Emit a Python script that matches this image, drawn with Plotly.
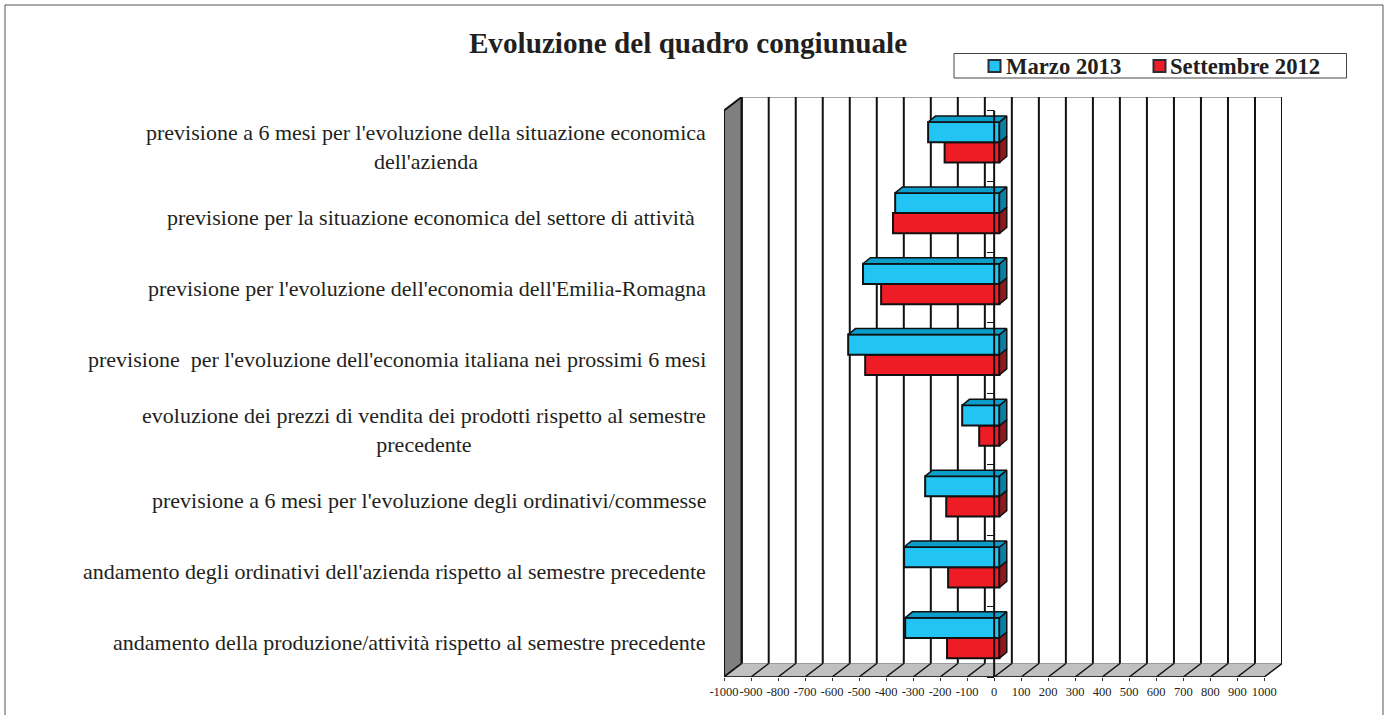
import plotly.graph_objects as go

# Chart values, top category first
categories = [
    "previsione a 6 mesi per l'evoluzione della situazione economica<br>dell'azienda",
    "previsione per la situazione economica del settore di attività\u00a0\u00a0",
    "previsione per l'evoluzione dell'economia dell'Emilia-Romagna",
    "previsione  per l'evoluzione dell'economia italiana nei prossimi 6 mesi",
    "evoluzione dei prezzi di vendita dei prodotti rispetto al semestre<br>precedente",
    "previsione a 6 mesi per l'evoluzione degli ordinativi/commesse",
    "andamento degli ordinativi dell'azienda rispetto al semestre precedente",
    "andamento della produzione/attività rispetto al semestre precedente",
]
marzo_2013 = [-264, -386, -505, -560, -138, -275, -353, -349]
settembre_2012 = [-203, -394, -438, -497, -75, -197, -190, -194]
x_ticks = list(range(-1000, 1001, 100))
title_text = "Evoluzione del quadro congiunuale"
series_names = ["Marzo 2013", "Settembre 2012"]

W, H = 1387, 715
FONT = "Liberation Serif"
INK = "#231f20"

# Pixel frame of the pseudo 3D box
LEFT, RIGHT, TOP, BOTTOM = 724, 1282, 97, 677
UNIT_X = 0.27           # px per value unit
BAND = 70.83            # px per category band
DEPTH_X, DEPTH_Y = 17.7, 13.5
BAR_DX, BAR_DY = 5.3, 3.6
SIDE_DX, SIDE_DY = 7.3, 6
BAR_H = 20.2


def ux(px):
    return px / UNIT_X


def uy(px):
    return px / BAND


def paper_x(px):
    return (px - LEFT) / (RIGHT - LEFT)


def paper_y(px):
    return (BOTTOM - px) / (BOTTOM - TOP)


n = len(categories)
band_mid = [n - 0.5 - i for i in range(n)]
x_range = [x_ticks[0], x_ticks[-1] + ux(DEPTH_X)]
y_range = [0, n + uy(DEPTH_Y)]
x_off = ux(BAR_DX)

y_blue = [m + uy(BAR_DY) + uy(BAR_H / 2) for m in band_mid]
y_red = [m + uy(BAR_DY) - uy(BAR_H / 2) for m in band_mid]

fig = go.Figure()

# Front faces
for name, vals, ys, col in [
    (series_names[1], settembre_2012, y_red, "#ee1c25"),
    (series_names[0], marzo_2013, y_blue, "#22c4f4"),
]:
    fig.add_trace(go.Bar(
        x=vals, y=ys, base=x_off, orientation="h", width=uy(BAR_H), name=name,
        marker=dict(color=col, line=dict(color="#111111", width=2)),
        showlegend=False,
    ))


def faces(vals, ys):
    top_x, top_y, side_x, side_y = [], [], [], []
    sx, sy = ux(SIDE_DX), uy(SIDE_DY)
    h = uy(BAR_H) / 2
    for v, y in zip(vals, ys):
        xl, xr = v + x_off, x_off
        top_x += [xl, xl + sx, xr + sx, xr, xl, None]
        top_y += [y + h, y + h + sy, y + h + sy, y + h, y + h, None]
        side_x += [xr, xr + sx, xr + sx, xr, xr, None]
        side_y += [y + h, y + h + sy, y - h + sy, y - h, y + h, None]
    return top_x, top_y, side_x, side_y


# Depth faces
_, _, rsx, rsy = faces(settembre_2012, y_red)
btx, bty, bsx, bsy = faces(marzo_2013, y_blue)
for xs, ys, col in [(rsx, rsy, "#8e1a20"), (bsx, bsy, "#0a7fa3"), (btx, bty, "#0a9fcb")]:
    fig.add_trace(go.Scatter(
        x=xs, y=ys, mode="lines", fill="toself", fillcolor=col,
        line=dict(color="#111111", width=1.5), hoverinfo="skip", showlegend=False,
    ))

# Value axis line at zero
fig.add_trace(go.Scatter(
    x=[0, 0], y=[0, n], mode="lines", line=dict(color="#111111", width=2),
    hoverinfo="skip", showlegend=False,
))

dx, dy = ux(DEPTH_X), uy(DEPTH_Y)
x0, x1 = x_ticks[0], x_ticks[-1]

# Left wall and floor
fig.add_shape(type="path", layer="below",
              path=f"M {x0},0 L {x0 + dx},{dy} L {x0 + dx},{n + dy} L {x0},{n} Z",
              fillcolor="#7f7f7f", line=dict(color="#111111", width=2))
fig.add_shape(type="path", layer="below",
              path=f"M {x0},0 L {x0 + dx},{dy} L {x1 + dx},{dy} L {x1},0 Z",
              fillcolor="#c0c0c0", line=dict(color="#9a9a9a", width=1))
fig.add_shape(type="line", layer="below", x0=x0 + dx, x1=x1 + dx, y0=n + dy, y1=n + dy,
              line=dict(color="#a8a8a8", width=2))
fig.add_shape(type="line", layer="below", x0=x0, x1=x1, y0=0, y1=0,
              line=dict(color="#333333", width=2))

# Gridlines on back wall and floor
for t in x_ticks:
    fig.add_shape(type="line", layer="below", x0=t + dx, x1=t + dx, y0=dy, y1=n + dy,
                  line=dict(color="#111111", width=2))
    fig.add_shape(type="line", layer="below", x0=t, x1=t + dx, y0=0, y1=dy,
                  line=dict(color="#111111", width=1.5))

# Category labels, centred lines like the original
for cat, m in zip(categories, band_mid):
    fig.add_annotation(text=cat, xref="paper", yref="y", x=paper_x(708), y=m, yshift=-1,
                       xanchor="right", yanchor="middle", align="center", showarrow=False,
                       font=dict(family=FONT, size=22, color=INK))

# Outer frame
fig.add_shape(type="rect", xref="paper", yref="paper", layer="below",
              x0=paper_x(5), x1=paper_x(1383), y0=paper_y(720), y1=paper_y(5),
              line=dict(color="#555555", width=1), fillcolor="rgba(0,0,0,0)")

# Legend box
fig.add_shape(type="rect", xref="paper", yref="paper",
              x0=paper_x(954), x1=paper_x(1346.5), y0=paper_y(78), y1=paper_y(53.5),
              line=dict(color="#444444", width=1), fillcolor="white")
for name, col, sq_x, tx in [(series_names[0], "#22c4f4", 988.5, 1003.5), (series_names[1], "#ee1c25", 1153.5, 1168)]:
    fig.add_shape(type="rect", xref="paper", yref="paper",
                  x0=paper_x(sq_x), x1=paper_x(sq_x + 12), y0=paper_y(72), y1=paper_y(60),
                  line=dict(color="#2b2b33", width=2), fillcolor=col)
    fig.add_annotation(text=f"<b>{name}</b>", xref="paper", yref="paper", x=paper_x(tx),
                       y=paper_y(66), xanchor="left", yanchor="middle", showarrow=False,
                       font=dict(family=FONT, size=22.7, color=INK))

fig.update_layout(
    width=W, height=H,
    margin=dict(l=LEFT, r=W - RIGHT, t=TOP, b=H - BOTTOM, pad=0),
    paper_bgcolor="white", plot_bgcolor="white",
    barmode="overlay", showlegend=False,
    font=dict(family=FONT, color=INK),
    title=dict(text=f"<b>{title_text}</b>", x=688 / W, y=1 - 43 / H, xanchor="center", yanchor="middle",
               font=dict(family=FONT, size=29.2, color=INK)),
    xaxis=dict(range=x_range, tickmode="array", tickvals=x_ticks, ticktext=[str(t) for t in x_ticks],
               ticks="outside", ticklen=3, tickwidth=1, tickcolor="#333333", tickangle=0,
               showgrid=False, zeroline=False, showline=False,
               tickfont=dict(family=FONT, size=12.5, color=INK)),
    yaxis=dict(range=y_range, tickmode="array", tickvals=list(range(n + 1)), ticks="outside", ticklen=7,
               tickwidth=1, tickcolor="#111111", showticklabels=False, showgrid=False, zeroline=False,
               showline=False, anchor="free", position=paper_x(994)),
)

# Page margin off so the figure fills the window
fig.write_html("out.html", config=dict(displayModeBar=False),
               post_script="document.body.style.margin='0';")
